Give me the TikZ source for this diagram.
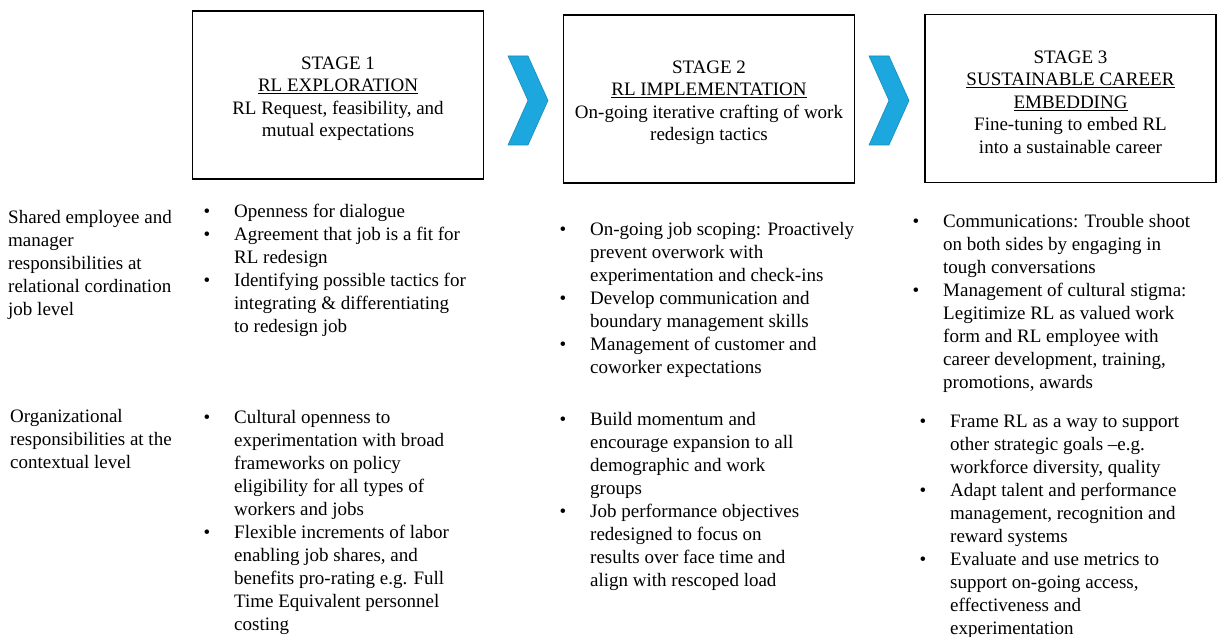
\documentclass[tikz,border=0pt]{standalone}
\usepackage{fontspec}
\setmainfont{Liberation Serif}
\usetikzlibrary{positioning}
\definecolor{chevblue}{RGB}{28,167,222}
\newcommand{\bul}{\llap{\textbullet\hspace{24bp}}}
\newcommand{\stagehead}[1]{\rule{0pt}{20bp}STAGE #1}
\tikzset{
  stagebox/.style={draw, line width=1.3bp, minimum width=291bp, minimum height=168bp,
    inner sep=0pt, align=center, font=\fontsize{19bp}{22.5bp}\selectfont},
  itemcol/.style={anchor=north west, inner sep=0pt, align=left,
    font=\fontsize{19bp}{23bp}\selectfont},
  rowlabel/.style={itemcol}
}

\begin{document}
\begin{tikzpicture}[x=1bp, y=-1bp]
  \useasboundingbox (0,0) rectangle (1222,637);
  % 3 stages
  \node[stagebox] (s1) at (338,95) {\stagehead{1}\\\underline{RL EXPLORATION}\\RL Request, feasibility, and\\mutual expectations};
  \node[stagebox] (s2) at (709,99) {\stagehead{2}\\\underline{RL IMPLEMENTATION}\\On-going iterative crafting of work\\redesign tactics};
  \node[stagebox] (s3) at (1070.5,98.5) {\stagehead{3}\\\underline{SUSTAINABLE CAREER}\\\underline{EMBEDDING}\\Fine-tuning to embed RL\\into a sustainable career};
  % Chevrons between the stages
  \foreach \cx in {528, 889} {
    \filldraw[fill=chevblue, draw=chevblue!85!black, line width=0.6bp]
      (\cx-20,56) -- (\cx,56) -- (\cx+20,100.5) -- (\cx,145) -- (\cx-20,145) -- (\cx,100.5) -- cycle;
  }
  % Row labels
  \node[rowlabel] (lab1) at (8,210) {Shared employee and\\manager\\responsibilities at\\relational cordination\\job level};
  \node[rowlabel] (lab2) at (10,409) {Organizational\\responsibilities at the\\contextual level};
  % Job level items
  \node[itemcol] (c11) at (234,204) {\bul Openness for dialogue\\
    \bul Agreement that job is a fit for\\
    RL redesign\\
    \bul Identifying possible tactics for\\
    integrating \& differentiating\\
    to redesign job};
  \node[itemcol] (c12) at (590,222) {\bul On-going job scoping: Proactively\\
    prevent overwork with\\
    experimentation and check-ins\\
    \bul Develop communication and\\
    boundary management skills\\
    \bul Management of customer and\\
    coworker expectations};
  \node[itemcol] (c13) at (943,214) {\bul Communications: Trouble shoot\\
    on both sides by engaging in\\
    tough conversations\\
    \bul Management of cultural stigma:\\
    Legitimize RL as valued work\\
    form and RL employee with\\
    career development, training,\\
    promotions, awards};
  % Contextual level items
  \node[itemcol] (c21) at (234,410) {\bul Cultural openness to\\
    experimentation with broad\\
    frameworks on policy\\
    eligibility for all types of\\
    workers and jobs\\
    \bul Flexible increments of labor\\
    enabling job shares, and\\
    benefits pro-rating e.g. Full\\
    Time Equivalent personnel\\
    costing};
  \node[itemcol] (c22) at (590,412) {\bul Build momentum and\\
    encourage expansion to all\\
    demographic and work\\
    groups\\
    \bul Job performance objectives\\
    redesigned to focus on\\
    results over face time and\\
    align with rescoped load};
  \node[itemcol] (c23) at (950,415) {\bul Frame RL as a way to support\\
    other strategic goals --e.g.\\
    workforce diversity, quality\\
    \bul Adapt talent and performance\\
    management, recognition and\\
    reward systems\\
    \bul Evaluate and use metrics to\\
    support on-going access,\\
    effectiveness and\\
    experimentation};
\end{tikzpicture}
\end{document}
